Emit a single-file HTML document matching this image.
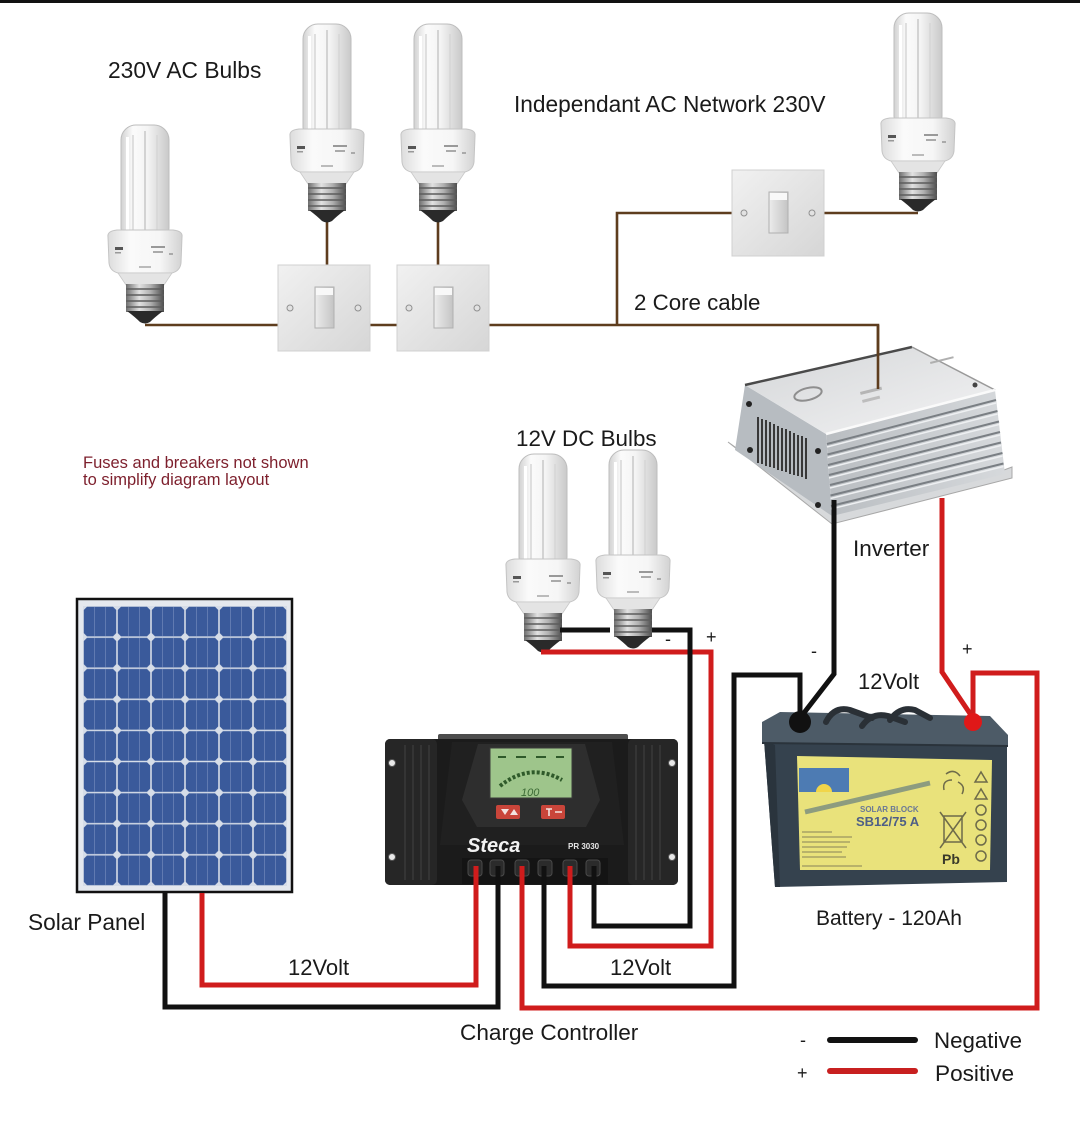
<!DOCTYPE html>
<html><head><meta charset="utf-8">
<style>
html,body{margin:0;padding:0;background:#fff;}
svg{display:block;}
text{font-family:"Liberation Sans",Arial,sans-serif;}
</style></head><body>
<svg width="1080" height="1138" viewBox="0 0 1080 1138" xmlns="http://www.w3.org/2000/svg">
<defs>
<linearGradient id="tube" x1="0" x2="1" y1="0" y2="0">
<stop offset="0" stop-color="#d2d2d2"/><stop offset="0.25" stop-color="#fbfbfb"/><stop offset="0.55" stop-color="#f4f4f4"/><stop offset="1" stop-color="#c9c9c9"/>
</linearGradient>
<linearGradient id="collar" x1="0" x2="1" y1="0" y2="0">
<stop offset="0" stop-color="#dcdcdc"/><stop offset="0.3" stop-color="#fafafa"/><stop offset="0.7" stop-color="#f6f6f6"/><stop offset="1" stop-color="#d2d2d2"/>
</linearGradient>
<linearGradient id="metal" x1="0" x2="1" y1="0" y2="0">
<stop offset="0" stop-color="#6e6e6e"/><stop offset="0.35" stop-color="#e2e2e2"/><stop offset="0.65" stop-color="#b0b0b0"/><stop offset="1" stop-color="#4e4e4e"/>
</linearGradient>
<linearGradient id="plate" x1="0" y1="0" x2="1" y2="1">
<stop offset="0" stop-color="#f1f1f1"/><stop offset="1" stop-color="#d6d6d6"/>
</linearGradient>
<linearGradient id="rocker" x1="0" y1="0" x2="1" y2="0">
<stop offset="0" stop-color="#ececec"/><stop offset="1" stop-color="#c4c4c4"/>
</linearGradient>
<linearGradient id="invtop" x1="0" y1="0" x2="1" y2="1">
<stop offset="0" stop-color="#d4d6d8"/><stop offset="1" stop-color="#f3f3f4"/>
</linearGradient>
<linearGradient id="invfront" x1="0" y1="0" x2="1" y2="0">
<stop offset="0" stop-color="#b9bdc1"/><stop offset="1" stop-color="#d6d9dc"/>
</linearGradient>
<pattern id="cells" patternUnits="userSpaceOnUse" x="83" y="606" width="34" height="31.1">
<rect x="0" y="0" width="34" height="31.1" fill="#d6dde8"/>
<polygon points="4,0.8 30,0.8 33.2,4 33.2,27.1 30,30.3 4,30.3 0.8,27.1 0.8,4" fill="#3a5a9b"/>
<path d="M11.5,1 V30 M22.5,1 V30" stroke="#6f88bb" stroke-width="0.7"/>
</pattern>
<g id="bulb">
<rect x="-24" y="0" width="48" height="118" rx="15" fill="url(#tube)" stroke="#bdbdbd" stroke-width="1"/>
<path d="M-12,10 V112 M12,10 V112" stroke="#d6d6d6" stroke-width="1.5"/>
<path d="M0,6 V112" stroke="#bcbcbc" stroke-width="1.2"/>
<rect x="-19" y="12" width="3" height="96" fill="#ffffff"/>
<path d="M-37,112 Q-38,106 -28,105 H28 Q38,106 37,112 L36,138 Q35,146 27,148 H-27 Q-35,146 -36,138 Z" fill="url(#collar)" stroke="#c4c4c4"/>
<rect x="-30" y="122" width="8" height="3" fill="#555"/>
<rect x="-30" y="127" width="6" height="1.5" fill="#999"/>
<rect x="6" y="121" width="14" height="2" fill="#999"/>
<rect x="8" y="126" width="10" height="2" fill="#aaa"/>
<rect x="24" y="128" width="4" height="2" fill="#aaa"/>
<rect x="-6" y="141" width="12" height="2" fill="#bbb"/>
<path d="M-27,148 L-19,160 H19 L27,148 Z" fill="#e4e4e4" stroke="#c8c8c8" stroke-width="0.8"/>
<rect x="-19" y="159" width="38" height="28" fill="url(#metal)"/>
<path d="M-19,164 H19 M-19,170 H19 M-19,176 H19 M-19,182 H19" stroke="#5c5c5c" stroke-width="1.6"/>
<path d="M-18,186 Q-10,192 -5,197 Q0,200 5,197 Q10,192 18,186 Z" fill="#2a2a2a"/>
</g>
<g id="sw">
<rect x="0" y="0" width="92" height="86" fill="url(#plate)" stroke="#d0d0d0"/>
<rect x="37" y="22" width="19" height="41" fill="url(#rocker)" stroke="#b0b0b0"/>
<rect x="38" y="23" width="17" height="7" fill="#f8f8f8"/>
<circle cx="12" cy="43" r="3" fill="#e2e2e2" stroke="#909090"/>
<circle cx="80" cy="43" r="3" fill="#e2e2e2" stroke="#909090"/>
</g>
</defs>

<rect x="0" y="0" width="1080" height="1138" fill="#ffffff"/>
<rect x="0" y="0" width="1080" height="3" fill="#111"/>

<!-- AC wiring -->
<g stroke="#5e3d1e" stroke-width="2.6" fill="none">
<path d="M145,325 H878 V389"/>
<path d="M327,222 V266"/>
<path d="M438,222 V266"/>
<path d="M617,325 V213 H733"/>
<path d="M821,213 H918"/>
</g>

<use href="#sw" transform="translate(278,265)"/>
<use href="#sw" transform="translate(397,265)"/>
<use href="#sw" transform="translate(732,170)"/>

<use href="#bulb" transform="translate(145,125)"/>
<use href="#bulb" transform="translate(327,24)"/>
<use href="#bulb" transform="translate(438,24)"/>
<use href="#bulb" transform="translate(918,13)"/>

<text x="108" y="78" font-size="22.8" fill="#1a1a1a">230V AC Bulbs</text>
<text x="514" y="112" font-size="22.7" fill="#1a1a1a">Independant AC Network 230V</text>
<text x="634" y="310" font-size="22.3" fill="#1a1a1a">2 Core cable</text>

<!-- Inverter -->
<g>
<polygon points="728,442 832,524 1012,478 1012,467 1004,470 832,513 735,447" fill="#d7d9db" stroke="#a8a8a8" stroke-width="1"/>
<polygon points="745,385 826,434 832,516 735,450" fill="#b7bcc1"/>
<g stroke="#383838" stroke-width="2">
<line x1="758" y1="417" x2="758" y2="463"/><line x1="762" y1="419" x2="762" y2="464"/>
<line x1="766" y1="420" x2="766" y2="466"/><line x1="770" y1="422" x2="770" y2="467"/>
<line x1="774" y1="424" x2="774" y2="468"/><line x1="778" y1="426" x2="778" y2="470"/>
<line x1="782" y1="428" x2="782" y2="471"/><line x1="786" y1="429" x2="786" y2="472"/>
<line x1="790" y1="431" x2="790" y2="474"/><line x1="794" y1="433" x2="794" y2="475"/>
<line x1="798" y1="435" x2="798" y2="476"/><line x1="802" y1="436" x2="802" y2="477"/>
<line x1="806" y1="438" x2="806" y2="479"/>
</g>
<polygon points="826,434 995,390 1005,474 832,516" fill="url(#invfront)"/>
<g stroke="#7a7f84" stroke-width="2">
<line x1="827" y1="444" x2="996" y2="400"/><line x1="827.5" y1="454.5" x2="997.5" y2="411"/>
<line x1="828" y1="465" x2="999" y2="421.5"/><line x1="829" y1="475" x2="1000" y2="432"/>
<line x1="830" y1="485" x2="1001" y2="442.5"/><line x1="830.5" y1="495.5" x2="1002.5" y2="453"/>
<line x1="831" y1="506" x2="1003.5" y2="463.5"/>
</g>
<g stroke="#eef0f2" stroke-width="1.5">
<line x1="827" y1="447" x2="996" y2="403"/><line x1="827.5" y1="457.5" x2="997.5" y2="414"/>
<line x1="828" y1="468" x2="999" y2="424.5"/><line x1="829" y1="478" x2="1000" y2="435"/>
<line x1="830" y1="488" x2="1001" y2="445.5"/><line x1="830.5" y1="498.5" x2="1002.5" y2="456"/>
<line x1="831" y1="509" x2="1003.5" y2="466.5"/>
</g>
<polygon points="745,385 912,347 995,390 826,434" fill="url(#invtop)"/>
<path d="M745,385 L912,347" stroke="#4a4a4a" stroke-width="2.5"/>
<path d="M912,347 L995,390" stroke="#9a9a9a" stroke-width="1.5"/>
<path d="M826,434 L995,390" stroke="#fafafa" stroke-width="2.5"/>
<ellipse cx="808" cy="394" rx="14" ry="6" transform="rotate(-14 808 394)" fill="none" stroke="#8e8e8e" stroke-width="2"/>
<rect x="860" y="392" width="22" height="3" fill="#b5b5b5" transform="rotate(-14 860 392)"/>
<rect x="862" y="400" width="18" height="3" fill="#bdbdbd" transform="rotate(-14 862 400)"/>
<rect x="930" y="362" width="24" height="2" fill="#b0b0b0" transform="rotate(-14 930 362)"/>
<circle cx="975" cy="385" r="2.5" fill="#444"/>
<circle cx="749" cy="404" r="3" fill="#222"/>
<circle cx="750" cy="450" r="3" fill="#222"/>
<circle cx="818" cy="451" r="3" fill="#222"/>
<circle cx="818" cy="505" r="3" fill="#222"/>
</g>
<path d="M878,325 V389" stroke="#5e3d1e" stroke-width="2.6" fill="none"/>
<text x="853" y="556" font-size="22.5" fill="#1a1a1a">Inverter</text>

<!-- Fuses note -->
<text x="83" y="468" font-size="16.5" fill="#7d1f2c">Fuses and breakers not shown</text>
<text x="83" y="485" font-size="16.5" fill="#7d1f2c">to simplify diagram layout</text>

<!-- DC bulbs -->
<text x="516" y="446" font-size="22.4" fill="#1a1a1a">12V DC Bulbs</text>
<use href="#bulb" transform="translate(543,454)"/>
<use href="#bulb" transform="translate(633,450)"/>

<!-- Solar panel -->
<rect x="77" y="599" width="215" height="293" fill="#e4e8ee" stroke="#111" stroke-width="2.5"/>
<rect x="83" y="606" width="204" height="280" fill="url(#cells)"/>
<text x="28" y="930" font-size="22.7" fill="#1a1a1a">Solar Panel</text>

<!-- Charge controller -->
<g>
<rect x="438" y="734" width="190" height="9" rx="2" fill="#4d4d4d"/>
<rect x="385" y="739" width="293" height="146" rx="5" fill="#1b1b1b"/>
<rect x="385" y="739" width="52" height="146" rx="5" fill="#262626"/>
<rect x="628" y="739" width="50" height="146" rx="5" fill="#262626"/>
<g stroke="#343434" stroke-width="2">
<path d="M405,745 V880 M413,745 V880 M421,745 V880 M429,745 V880"/>
<path d="M636,745 V880 M644,745 V880 M652,745 V880 M660,745 V880"/>
</g>
<path d="M452,742 H612 L624,845 H440 Z" fill="#202020"/>
<path d="M478,744 H585 L600,800 L586,827 H477 L462,800 Z" fill="#2e2e2e"/>
<rect x="490" y="748" width="82" height="50" fill="#9ec58b" stroke="#3a3a3a"/>
<path d="M500,786 Q530,762 562,780" stroke="#2f5a2a" stroke-width="4" fill="none" stroke-dasharray="3 2"/>
<path d="M498,757 h8 M516,757 h10 M536,757 h10 M556,757 h8" stroke="#2f5a2a" stroke-width="2"/>
<text x="521" y="796" font-size="11" font-style="italic" fill="#3d6b36">100</text>
<rect x="496" y="805" width="24" height="14" rx="2" fill="#c9453a"/>
<rect x="541" y="805" width="24" height="14" rx="2" fill="#c9453a"/>
<path d="M501,809 L505,815 L509,809 Z M510,815 L514,809 L518,815 Z" fill="#f3e3e0"/>
<path d="M546,809 h6 M549,809 v7 M555,812 h7" stroke="#f3e3e0" stroke-width="1.6"/>
<text x="467" y="852" font-size="20" font-style="italic" font-weight="bold" fill="#f2f2f2">Steca</text>
<text x="568" y="849" font-size="8" font-weight="bold" fill="#e8e8e8">PR 3030</text>
<rect x="462" y="858" width="146" height="26" fill="#141414"/>
<g fill="#2b2b2b" stroke="#4a4a4a">
<rect x="468" y="860" width="14" height="16" rx="3"/><rect x="490" y="860" width="14" height="16" rx="3"/>
<rect x="515" y="860" width="14" height="16" rx="3"/><rect x="538" y="860" width="14" height="16" rx="3"/>
<rect x="563" y="860" width="14" height="16" rx="3"/><rect x="586" y="860" width="14" height="16" rx="3"/>
</g>
<g fill="#e8e8e8" stroke="#555">
<circle cx="392" cy="763" r="3.5"/><circle cx="392" cy="857" r="3.5"/>
<circle cx="672" cy="763" r="3.5"/><circle cx="672" cy="857" r="3.5"/>
</g>
</g>

<!-- Battery -->
<g>
<polygon points="764,740 1007,742 1007,882 775,887" fill="#35424e"/>
<polygon points="764,740 775,745 780,887 775,887" fill="#2a343d"/>
<polygon points="762,722 780,712 990,716 1008,735 1008,746 762,743" fill="#4d5b67"/>
<path d="M762,743 L1008,746" stroke="#2a333b" stroke-width="2"/>
<g stroke="#2a3036" stroke-width="6" fill="none" stroke-linecap="round">
<path d="M826,722 Q834,706 850,710 L872,718"/>
<path d="M862,726 Q872,712 888,716 L905,722"/>
<path d="M890,720 Q900,706 915,710 L930,718"/>
</g>
<polygon points="797,756 992,760 990,870 800,870" fill="#e9e27b"/>
<rect x="799" y="768" width="50" height="24" fill="#4d7bb3"/>
<path d="M816,792 A8,8 0 0 1 832,792 Z" fill="#f1d54a"/>
<path d="M805,812 L930,783" stroke="#8d9c7f" stroke-width="5"/>
<text x="860" y="812" font-size="8" font-weight="bold" fill="#6a7896">SOLAR BLOCK</text>
<text x="856" y="826" font-size="13" font-weight="bold" fill="#4e5f86">SB12/75 A</text>
<g stroke="#9a9560" stroke-width="1.2">
<path d="M802,832 h30 M802,837 h50 M802,842 h48 M802,847 h45 M802,852 h40 M802,857 h44 M802,866 h60"/>
</g>
<g fill="none" stroke="#6e6b4a" stroke-width="1.5">
<path d="M946,774 q8,-6 14,2 M944,790 q-2,-10 8,-10 M962,794 q4,-8 -4,-12"/>
<path d="M975,782 L981,772 L987,782 Z M975,799 L981,789 L987,799 Z"/>
<circle cx="981" cy="810" r="5"/><circle cx="981" cy="825" r="5"/>
<circle cx="981" cy="840" r="5"/><circle cx="981" cy="856" r="5"/>
<path d="M940,812 L966,848 M966,812 L940,848 M944,816 h18 v26 h-18 Z"/>
</g>
<text x="942" y="864" font-size="14" font-weight="bold" fill="#3a3a2a">Pb</text>
</g>

<!-- DC wires -->
<g fill="none" stroke-width="5" stroke-linejoin="miter">
<path d="M202,893 V985 H476 V866" stroke="#d01c1c"/>
<path d="M165,893 V1007 H498 V866" stroke="#111"/>
<path d="M522,866 V1008 H1037 V673 H973 V720" stroke="#d01c1c"/>
<path d="M544,866 V986 H734 V675 H800 V720" stroke="#111"/>
<path d="M570,866 V946 H711 V652 H541" stroke="#d01c1c"/>
<path d="M594,866 V926 H690 V630 H652" stroke="#111"/>
<path d="M610,630 H560" stroke="#111"/>
<path d="M834,500 V674 L800,718" stroke="#111"/>
<path d="M942,498 V672 L973,718" stroke="#d01c1c"/>
</g>
<circle cx="800" cy="722" r="11" fill="#111"/>
<circle cx="973" cy="722" r="9" fill="#e01818"/>

<text x="665" y="645" font-size="18" fill="#1a1a1a">-</text>
<text x="706" y="643" font-size="18" fill="#1a1a1a">+</text>
<text x="811" y="657" font-size="18" fill="#1a1a1a">-</text>
<text x="962" y="655" font-size="18" fill="#1a1a1a">+</text>
<text x="858" y="689" font-size="22" fill="#1a1a1a">12Volt</text>
<text x="816" y="925" font-size="21" fill="#1a1a1a">Battery - 120Ah</text>
<text x="288" y="975" font-size="22" fill="#1a1a1a">12Volt</text>
<text x="610" y="975" font-size="22" fill="#1a1a1a">12Volt</text>
<text x="460" y="1040" font-size="22.6" fill="#1a1a1a">Charge Controller</text>

<!-- Legend -->
<text x="800" y="1046" font-size="18" fill="#1a1a1a">-</text>
<text x="797" y="1079" font-size="18" fill="#1a1a1a">+</text>
<line x1="830" y1="1040" x2="915" y2="1040" stroke="#111" stroke-width="6" stroke-linecap="round"/>
<line x1="830" y1="1071" x2="915" y2="1071" stroke="#c82020" stroke-width="6" stroke-linecap="round"/>
<text x="934" y="1048" font-size="22.3" fill="#1a1a1a">Negative</text>
<text x="935" y="1081" font-size="22.6" fill="#1a1a1a">Positive</text>
</svg>
</body></html>
